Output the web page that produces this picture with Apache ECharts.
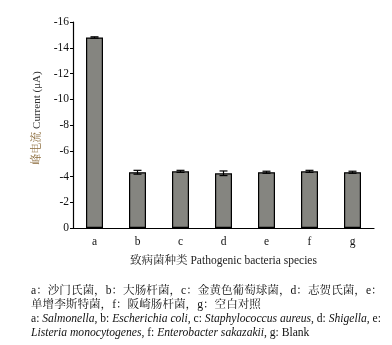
<!DOCTYPE html>
<html><head><meta charset="utf-8">
<script src="https://cdn.jsdelivr.net/npm/echarts@6/dist/echarts.min.js"></script>
<style>html,body{margin:0;padding:0;background:#fff}#c{width:392px;height:345px}</style>
</head><body><div id="c"></div>
<script>
var categories = ['a','b','c','d','e','f','g'];
var values = [-14.8, -4.33, -4.40, -4.25, -4.33, -4.40, -4.33];
var errors = [0.05, 0.15, 0.08, 0.18, 0.08, 0.08, 0.08];
var yTicks = {min: -16, max: 0, interval: 2};
var captionLines = [
  [{t:'a：沙门氏菌，b：大肠杆菌，c：金黄色葡萄球菌，d：志贺氏菌，e：'}],
  [{t:'单增李斯特菌，f：阪崎肠杆菌，g：空白对照'}],
  [{t:'a: '},{t:'Salmonella',i:1},{t:', b: '},{t:'Escherichia coli',i:1},{t:', c: '},{t:'Staphylococcus aureus',i:1},{t:', d: '},{t:'Shigella',i:1},{t:', e:'}],
  [{t:'Listeria monocytogenes',i:1},{t:', f: '},{t:'Enterobacter sakazakii',i:1},{t:', g: Blank'}]
];
var FF = '"Liberation Serif", "Times New Roman", "Noto Serif CJK SC", "Noto Sans CJK SC", serif';
var chart = echarts.init(document.getElementById('c'));
var CS = 11.6;
var graphics = captionLines.map(function(line, k){
  var rich = {n:{fontFamily:FF,fontSize:CS,color:'#111'}, i:{fontFamily:FF,fontSize:CS,fontStyle:'italic',color:'#111'}};
  var txt = line.map(function(p){ return '{' + (p.i ? 'i' : 'n') + '|' + p.t + '}'; }).join('');
  return {type:'text', left:31, top:[285,299,313,327][k], style:{text:txt, rich:rich, fontFamily:FF, fontSize:CS, fill:'#111'}};
});
chart.setOption({
  animation:false,
  grid:{left:73, right:18, top:22, bottom:117},
  xAxis:{type:'category', data:categories,
    axisLine:{lineStyle:{color:'#000',width:1.2}},
    axisTick:{inside:true,length:3,lineStyle:{color:'#000'}},
    axisLabel:{color:'#111',fontFamily:FF,fontSize:11.5,margin:8},
    name:'致病菌种类 Pathogenic bacteria species', nameLocation:'middle', nameGap:27,
    nameTextStyle:{color:'#222',fontFamily:FF,fontSize:11.5}
  },
  yAxis:{type:'value', inverse:true, min:yTicks.min, max:yTicks.max, interval:yTicks.interval,
    splitLine:{show:false},
    axisLine:{show:true,lineStyle:{color:'#000',width:1.2}},
    axisTick:{show:true,length:3,lineStyle:{color:'#000'}},
    axisLabel:{color:'#111',fontFamily:FF,fontSize:11.5,margin:4},
    name:'{z|峰电流} Current (μA)', nameLocation:'middle', nameRotate:90, nameGap:27,
    nameTextStyle:{color:'#333',fontFamily:FF,fontSize:11, padding:[0,0,0,14], rich:{z:{color:'#8a6a3a',fontFamily:FF,fontSize:11}}}
  },
  series:[
    {type:'bar', data:values, barWidth:17,
     itemStyle:{color:'#858580',borderColor:'#000',borderWidth:1.2}},
    {type:'custom', z:5,
     data:values.map(function(v,i){return [i, v, errors[i]];}),
     renderItem:function(params, api){
       var i = api.value(0), v = api.value(1), e = api.value(2);
       var hi = api.coord([i, v - e]), lo = api.coord([i, v + e]);
       var hw = 4;
       var st = {stroke:'#000', lineWidth:1.2};
       return {type:'group', children:[
         {type:'line', shape:{x1:hi[0],y1:hi[1],x2:lo[0],y2:lo[1]}, style:st},
         {type:'line', shape:{x1:hi[0]-hw,y1:hi[1],x2:hi[0]+hw,y2:hi[1]}, style:st},
         {type:'line', shape:{x1:lo[0]-hw,y1:lo[1],x2:lo[0]+hw,y2:lo[1]}, style:st}
       ]};
     }}
  ],
  graphic: graphics
});
</script></body></html>
